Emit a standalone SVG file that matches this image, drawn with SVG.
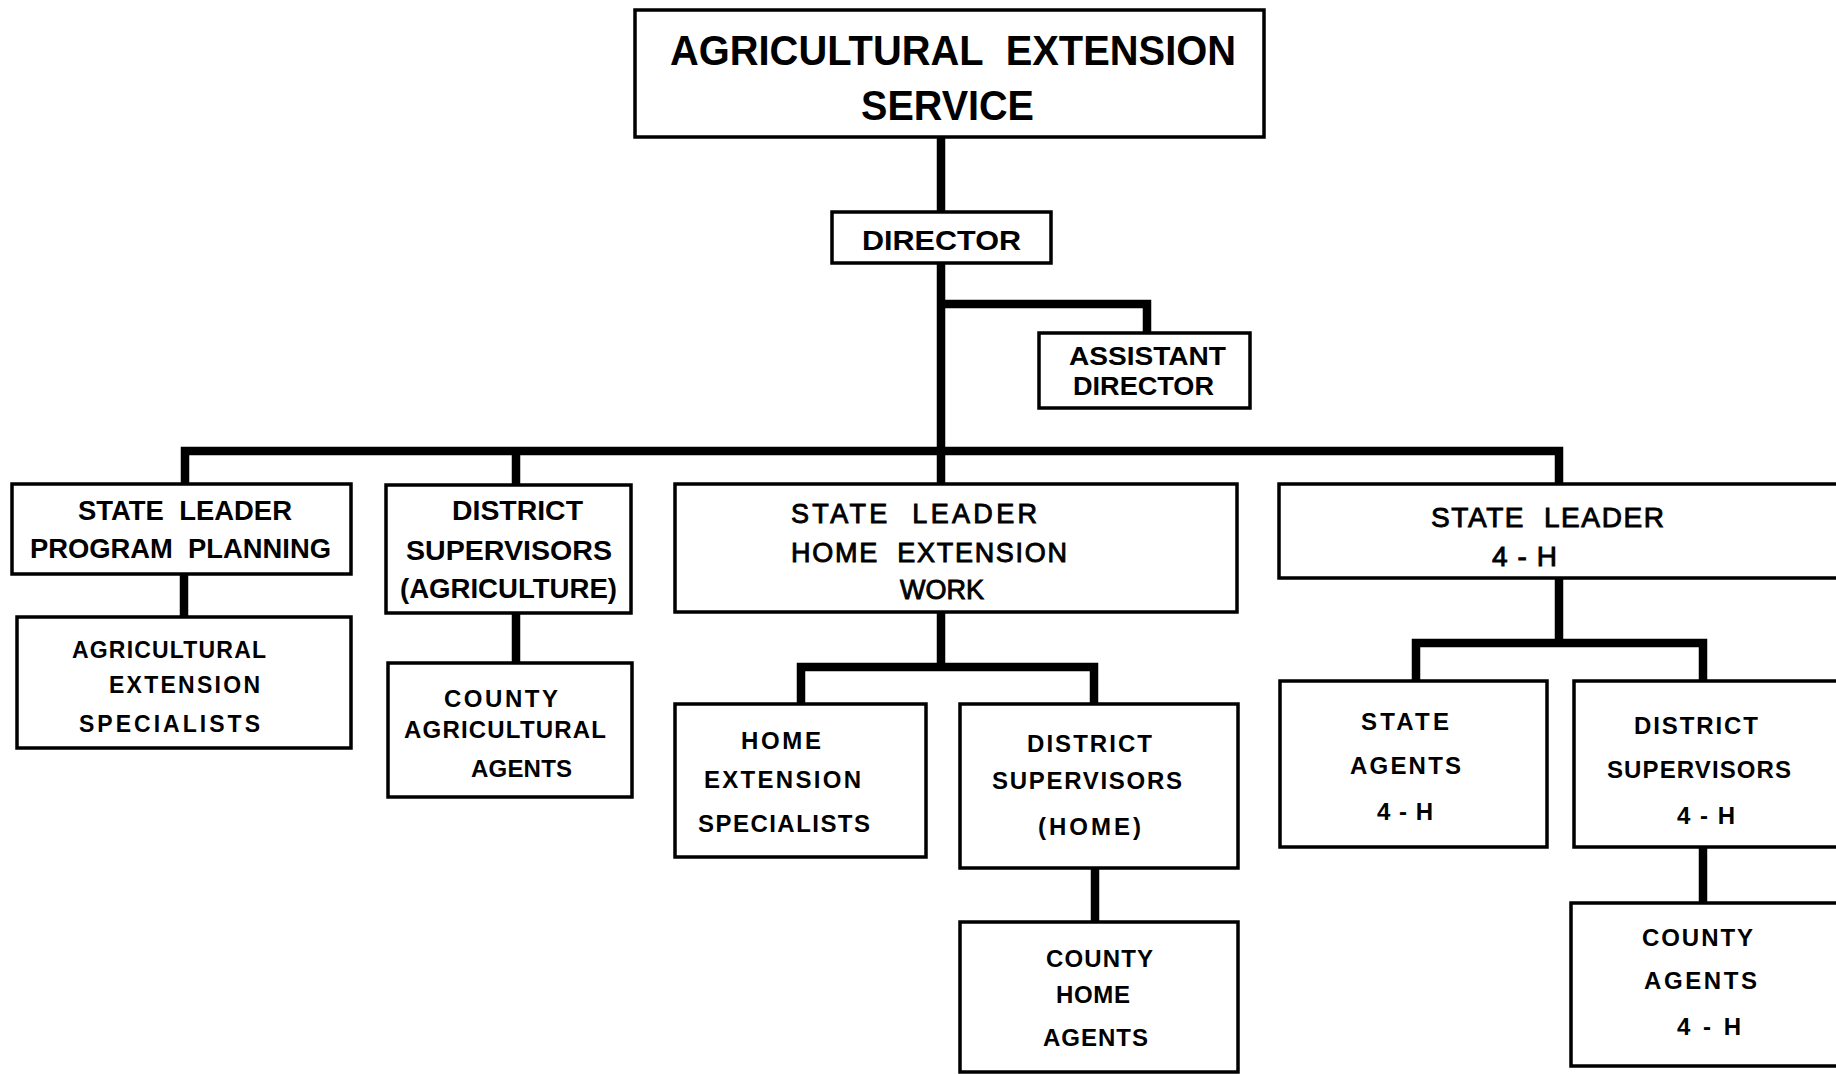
<svg xmlns="http://www.w3.org/2000/svg" width="1836" height="1074" viewBox="0 0 1836 1074">
<style>
.box{fill:#fff;stroke:#000;stroke-width:3.5}
.ln{fill:none;stroke:#000;stroke-width:8.5;stroke-linejoin:miter;stroke-linecap:butt}
text{font-family:"Liberation Sans",Arial,sans-serif;fill:#000;text-anchor:middle}
.c{font-weight:bold;}
.s{font-weight:bold;}
.r{font-weight:normal;stroke:#000;stroke-width:0.9}
</style>
<rect width="1836" height="1074" fill="#fff"/>
<g id="connectors">
<path class="ln" d="M941 137V212"/>
<path class="ln" d="M941 263V451"/>
<path class="ln" d="M941 304H1147V333"/>
<path class="ln" d="M185 484V451H1559V484"/>
<path class="ln" d="M516 451V485"/>
<path class="ln" d="M941 451V484"/>
<path class="ln" d="M184 574V617"/>
<path class="ln" d="M516 613V663"/>
<path class="ln" d="M941 612V667"/>
<path class="ln" d="M801 704V667H1094V704"/>
<path class="ln" d="M1095 868V922"/>
<path class="ln" d="M1559 578V643"/>
<path class="ln" d="M1416 681V643H1703V681"/>
<path class="ln" d="M1703 847V903"/>
</g>
<g id="n-service">
<rect class="box" x="635" y="10" width="629" height="127"/>
<text class="c" x="953" y="65" font-size="43" textLength="566" lengthAdjust="spacingAndGlyphs">AGRICULTURAL&#160;&#160;EXTENSION</text>
<text class="c" x="947.5" y="120" font-size="43" textLength="173" lengthAdjust="spacingAndGlyphs">SERVICE</text>
</g>
<g id="n-director">
<rect class="box" x="832" y="212" width="219" height="51"/>
<text class="c" x="941.5" y="250" font-size="28" textLength="159" lengthAdjust="spacingAndGlyphs">DIRECTOR</text>
</g>
<g id="n-assistant">
<rect class="box" x="1039" y="333" width="211" height="75"/>
<text class="c" x="1147.5" y="365" font-size="25" textLength="157" lengthAdjust="spacingAndGlyphs">ASSISTANT</text>
<text class="c" x="1143.5" y="395" font-size="25" textLength="141" lengthAdjust="spacingAndGlyphs">DIRECTOR</text>
</g>
<g id="n-sl-program">
<rect class="box" x="12" y="484" width="339" height="90"/>
<text class="c" x="185" y="520" font-size="27" textLength="214" lengthAdjust="spacingAndGlyphs">STATE&#160;&#160;LEADER</text>
<text class="c" x="180.5" y="558" font-size="27" textLength="301" lengthAdjust="spacingAndGlyphs">PROGRAM&#160;&#160;PLANNING</text>
</g>
<g id="n-ag-specialists">
<rect class="box" x="17" y="617" width="334" height="131"/>
<text class="s" x="169" y="658" font-size="23" textLength="194" lengthAdjust="spacing">AGRICULTURAL</text>
<text class="s" x="184.5" y="693" font-size="23" textLength="151" lengthAdjust="spacing">EXTENSION</text>
<text class="s" x="169.5" y="732" font-size="23" textLength="181" lengthAdjust="spacing">SPECIALISTS</text>
</g>
<g id="n-ds-ag">
<rect class="box" x="386" y="485" width="245" height="128"/>
<text class="c" x="517.5" y="520" font-size="27" textLength="131" lengthAdjust="spacingAndGlyphs">DISTRICT</text>
<text class="c" x="509" y="560" font-size="27" textLength="206" lengthAdjust="spacingAndGlyphs">SUPERVISORS</text>
<text class="c" x="508.5" y="598" font-size="27" textLength="217" lengthAdjust="spacingAndGlyphs">(AGRICULTURE)</text>
</g>
<g id="n-county-ag">
<rect class="box" x="388" y="663" width="244" height="134"/>
<text class="s" x="501" y="707" font-size="24" textLength="114" lengthAdjust="spacing">COUNTY</text>
<text class="s" x="505" y="738" font-size="24" textLength="202" lengthAdjust="spacing">AGRICULTURAL</text>
<text class="s" x="521.5" y="777" font-size="24" textLength="101" lengthAdjust="spacing">AGENTS</text>
</g>
<g id="n-sl-home">
<rect class="box" x="675" y="484" width="562" height="128"/>
<text class="r" x="914" y="523" font-size="27" textLength="246" lengthAdjust="spacing">STATE&#160;&#160;LEADER</text>
<text class="r" x="929" y="562" font-size="27" textLength="276" lengthAdjust="spacing">HOME&#160;&#160;EXTENSION</text>
<text class="r" x="942" y="599" font-size="27" textLength="84" lengthAdjust="spacing">WORK</text>
</g>
<g id="n-home-specialists">
<rect class="box" x="675" y="704" width="251" height="153"/>
<text class="s" x="781" y="749" font-size="24" textLength="80" lengthAdjust="spacing">HOME</text>
<text class="s" x="782.5" y="788" font-size="24" textLength="157" lengthAdjust="spacing">EXTENSION</text>
<text class="s" x="784" y="832" font-size="24" textLength="172" lengthAdjust="spacing">SPECIALISTS</text>
</g>
<g id="n-ds-home">
<rect class="box" x="960" y="704" width="278" height="164"/>
<text class="s" x="1089.5" y="752" font-size="24" textLength="125" lengthAdjust="spacing">DISTRICT</text>
<text class="s" x="1087" y="789" font-size="24" textLength="190" lengthAdjust="spacing">SUPERVISORS</text>
<text class="s" x="1089.5" y="835" font-size="24" textLength="103" lengthAdjust="spacing">(HOME)</text>
</g>
<g id="n-county-home">
<rect class="box" x="960" y="922" width="278" height="150"/>
<text class="s" x="1099.5" y="967" font-size="24" textLength="107" lengthAdjust="spacing">COUNTY</text>
<text class="s" x="1093" y="1003" font-size="24" textLength="74" lengthAdjust="spacing">HOME</text>
<text class="s" x="1095.5" y="1046" font-size="24" textLength="105" lengthAdjust="spacing">AGENTS</text>
</g>
<g id="n-sl-4h">
<rect class="box" x="1279" y="484" width="580" height="94"/>
<text class="r" x="1547.5" y="527" font-size="28" textLength="233" lengthAdjust="spacing">STATE&#160;&#160;LEADER</text>
<text class="r" x="1524.5" y="566" font-size="28" textLength="65" lengthAdjust="spacing">4-H</text>
</g>
<g id="n-state-agents">
<rect class="box" x="1280" y="681" width="267" height="166"/>
<text class="s" x="1405" y="730" font-size="24" textLength="88" lengthAdjust="spacing">STATE</text>
<text class="s" x="1405.5" y="774" font-size="24" textLength="111" lengthAdjust="spacing">AGENTS</text>
<text class="s" x="1405" y="820" font-size="24" textLength="56" lengthAdjust="spacing">4-H</text>
</g>
<g id="n-ds-4h">
<rect class="box" x="1574" y="681" width="285" height="166"/>
<text class="s" x="1696" y="734" font-size="24" textLength="124" lengthAdjust="spacing">DISTRICT</text>
<text class="s" x="1699" y="778" font-size="24" textLength="184" lengthAdjust="spacing">SUPERVISORS</text>
<text class="s" x="1706" y="824" font-size="24" textLength="58" lengthAdjust="spacing">4-H</text>
</g>
<g id="n-county-4h">
<rect class="box" x="1571" y="903" width="288" height="163"/>
<text class="s" x="1697.5" y="946" font-size="24" textLength="111" lengthAdjust="spacing">COUNTY</text>
<text class="s" x="1700.5" y="989" font-size="24" textLength="113" lengthAdjust="spacing">AGENTS</text>
<text class="s" x="1709" y="1035" font-size="24" textLength="64" lengthAdjust="spacing">4-H</text>
</g>
</svg>
